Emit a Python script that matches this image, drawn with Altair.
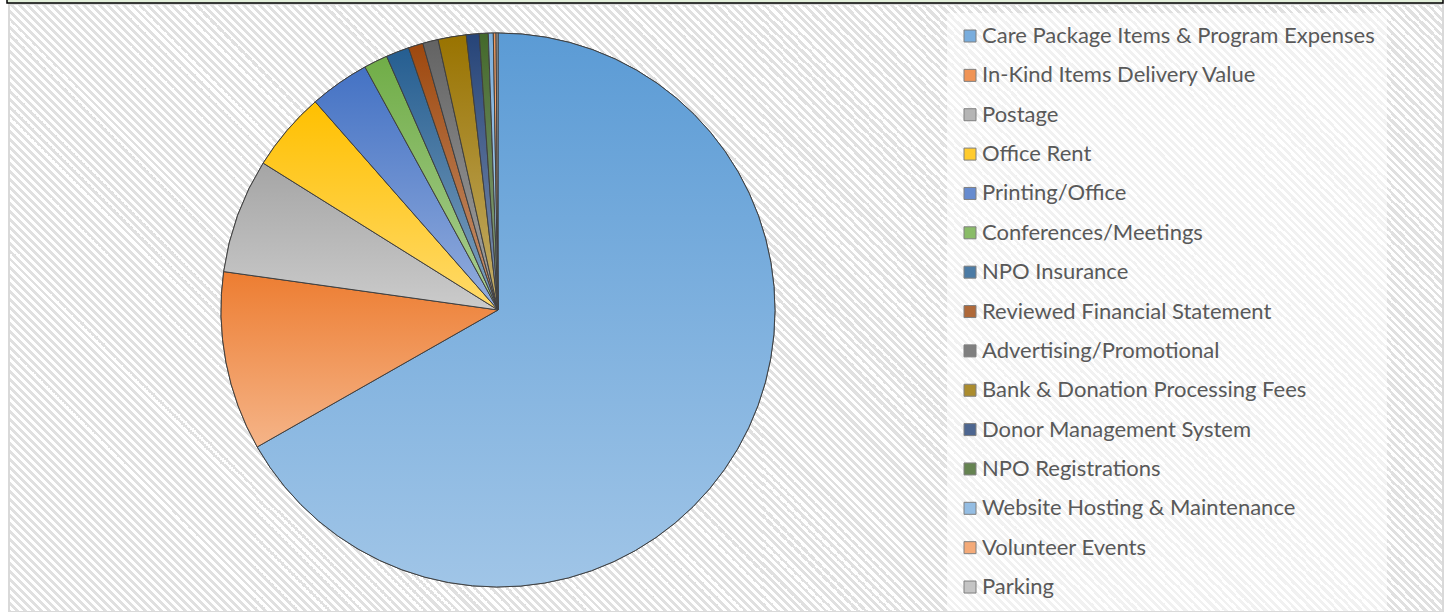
import altair as alt
import pandas as pd

categories = [
    "Care Package Items & Program Expenses",
    "In-Kind Items Delivery Value",
    "Postage",
    "Office Rent",
    "Printing/Office",
    "Conferences/Meetings",
    "NPO Insurance",
    "Reviewed Financial Statement",
    "Advertising/Promotional",
    "Bank & Donation Processing Fees",
    "Donor Management System",
    "NPO Registrations",
    "Website Hosting & Maintenance",
    "Volunteer Events",
    "Parking",
]
values = [66.75, 10.44, 6.68, 4.64, 3.49, 1.39, 1.35, 0.86, 0.90, 1.64, 0.75, 0.52, 0.29, 0.16, 0.11]
top_colors = [
    "#5B9BD5", "#ED7D31", "#A5A5A5", "#FFC000", "#4472C4", "#70AD47",
    "#255E91", "#9E480E", "#636363", "#997300", "#264478", "#43682B",
    "#7CAFDD", "#F1975A", "#B7B7B7",
]


def lighten(hexc, f):
    rgb = [int(hexc[i:i + 2], 16) for i in (1, 3, 5)]
    return "#%02x%02x%02x" % tuple(round(c + (255 - c) * f) for c in rgb)


def vgrad(c1, c2):
    return {"gradient": "linear", "x1": 0, "y1": 0, "x2": 0, "y2": 1,
            "stops": [{"offset": 0, "color": c1}, {"offset": 1, "color": c2}]}


df = pd.DataFrame({"cat": categories, "value": values, "idx": list(range(len(categories)))})

W, H = 1447, 612
CX, CY, R = 498, 310, 277

# chart-area frame with diagonal hatch
AX, AY, AW, AH = 9, 4, 1434, 608
span = AW + AH
gray, white = "#e0e0e0", "#ffffff"
stops = []
p = 0
while p < span:
    t0 = p / span
    t1 = min((p + 4) / span, 1)
    t2 = min((p + 8) / span, 1)
    stops += [{"offset": t0, "color": gray}, {"offset": t1, "color": gray},
              {"offset": t1, "color": white}, {"offset": t2, "color": white}]
    p += 8
c = span / (AW ** 2 + AH ** 2)
hatch = {"gradient": "linear", "x1": 0, "y1": 1, "x2": c * AW, "y2": 1 - c * AH, "stops": stops}

one = pd.DataFrame({"a": [0]})
bg = alt.Chart(one).mark_rect(fill=hatch, stroke="#d9d9d9", strokeWidth=2).encode(
    x=alt.value(AX), x2=alt.value(AX + AW), y=alt.value(AY), y2=alt.value(AY + AH)
)
strip = alt.Chart(one).mark_rect(fill="#e2efda", stroke="#000000", strokeWidth=1.5).encode(
    x=alt.value(7), x2=alt.value(1443), y=alt.value(-3), y2=alt.value(3)
)

base = alt.Chart(df)

legend_layer = base.mark_arc(radius=R, stroke="#404040", strokeWidth=1).encode(
    theta=alt.Theta("value:Q", stack=True),
    order=alt.Order("idx:Q", sort="ascending"),
    color=alt.Color(
        "cat:N",
        scale=alt.Scale(domain=categories, range=[lighten(t, 0.18) for t in top_colors]),
        legend=alt.Legend(
            title=None, orient="none", legendX=947, legendY=13,
            symbolType="square", symbolSize=144, symbolStrokeColor="#7f7f7f",
            symbolStrokeWidth=1, labelFont="Lato", labelFontSize=22,
            labelColor="#595959", labelLimit=600, labelOffset=1,
            rowPadding=17.36, padding=12, fillColor="rgba(255,255,255,0.55)",
            symbolLimit=0,
        ),
    ),
    x=alt.value(CX), y=alt.value(CY),
)

conds = [
    {"test": "datum.cat === " + repr(cat), "value": vgrad(t, lighten(t, 0.42))}
    for cat, t in zip(categories, top_colors)
]
grad_layer = base.mark_arc(radius=R, stroke="#404040", strokeWidth=1).encode(
    theta=alt.Theta("value:Q", stack=True),
    order=alt.Order("idx:Q", sort="ascending"),
    fill={"condition": conds, "value": "#cccccc"},
    x=alt.value(CX), y=alt.value(CY),
)

chart = alt.layer(bg, strip, legend_layer, grad_layer).properties(
    width=W, height=H, autosize="none", padding=0
).configure_view(strokeWidth=0)

chart.save("out.html", embed_options={"renderer": "svg", "actions": False})
